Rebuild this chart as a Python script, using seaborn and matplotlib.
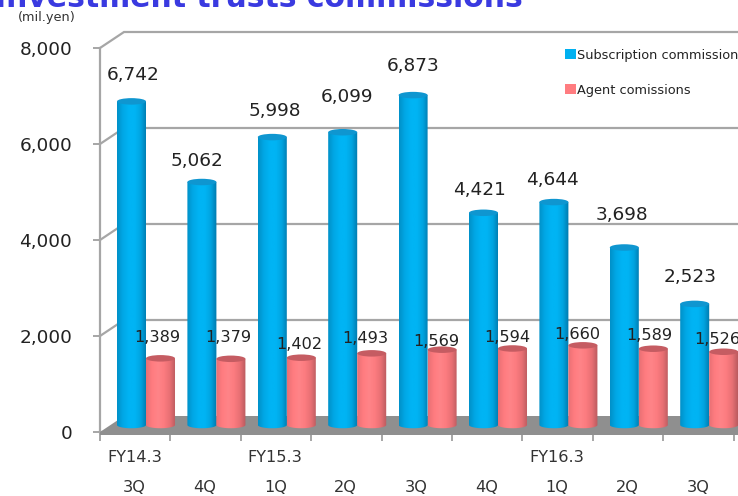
import numpy as np
import pandas as pd
import matplotlib
matplotlib.use("Agg")
import matplotlib.pyplot as plt
from matplotlib.patches import Polygon, Ellipse, Patch
from matplotlib.colors import LinearSegmentedColormap
import seaborn as sns

quarters = ["3Q", "4Q", "1Q", "2Q", "3Q", "4Q", "1Q", "2Q", "3Q"]
fiscal_years = ["FY14.3", "", "FY15.3", "", "", "", "FY16.3", "", ""]
subscription = [6742, 5062, 5998, 6099, 6873, 4421, 4644, 3698, 2523]
agent = [1389, 1379, 1402, 1493, 1569, 1594, 1660, 1589, 1526]
series_names = ["Subscription commission", "Agent comissions"]
title_text = "Investment trusts commissions"
unit_text = "(mil.yen)"
y_ticks = [0, 2000, 4000, 6000, 8000]

# hand-placed label offsets of the original, in pixels (dx, dy above bar top)
blue_offsets = [(2, 26), (-5, 21), (3, 26), (4, 35), (0, 29), (-4, 23), (-1, 22), (-2, 32), (-5, 27)]
red_offsets = [(-3, 21), (-3, 21), (-2, 13), (-6, 15), (-6, 8), (-5, 11), (-6, 11), (-4, 13), (-6, 12)]

W, H = 738, 496
L, R, T, B = 100, 738, 48, 432
X0 = 146            # pixel of category 0 centre
STEP = 70.4
PX_Y = 8000 / (B - T)
BASE = 7 * PX_Y
DX, DY = 24 / STEP, 16 * PX_Y
GREY = "#a6a6a6"

sns.set_theme(style="white")
plt.rcParams["font.family"] = ["DejaVu Sans"]
fig = plt.figure(figsize=(W / 100, H / 100), dpi=100)
ax = fig.add_axes([L / W, 1 - B / H, (R - L) / W, (B - T) / H])

df = pd.DataFrame({
    "pos": list(range(len(quarters))) * 2,
    "value": subscription + agent,
    "series": [series_names[0]] * len(subscription) + [series_names[1]] * len(agent),
})
sns.barplot(data=df, x="pos", y="value", hue="series", order=list(range(len(quarters))),
            palette=["#00b0f0", "#ff7c80"], width=0.824, gap=0, dodge=True,
            native_scale=True, ax=ax, legend=False, saturation=1, linewidth=0, zorder=4)

xmin, xmax = (L - X0) / STEP, (R - X0) / STEP
ax.set_xlim(xmin, xmax)
ax.set_ylim(0, 8000)
ax.set_xlabel("")
ax.set_ylabel("")
ax.set_axisbelow(True)

# back wall and diagonal gridlines
for v in y_ticks[1:]:
    ax.plot([xmin, xmin + DX, xmax], [v, v + DY, v + DY], color=GREY, lw=1.6,
            clip_on=False, zorder=1, solid_joinstyle="miter")
# floor
drop = 3 * PX_Y
ax.add_patch(Polygon([(xmin, -drop), (xmin, 0), (xmin + DX, DY), (xmax, DY), (xmax, -drop)],
                     closed=True, facecolor="#8f8f8f", edgecolor="none", zorder=1.5, clip_on=False))

blue_cmap = LinearSegmentedColormap.from_list(
    "b", ["#0090c8", "#00a8e6", "#00b4f4", "#00b4f4", "#00a4e0", "#0078ac"])
red_cmap = LinearSegmentedColormap.from_list(
    "r", ["#e87074", "#ff7c80", "#ff8488", "#fc7c80", "#e87074", "#b85a5e"])
top_colors = ["#0f96d0", "#c55c62"]
grad = np.linspace(0, 1, 128).reshape(1, -1)
EH = 6.5 * PX_Y

n = len(quarters)
patches = list(ax.patches)
bars = [p for p in patches if not isinstance(p, Polygon) and p.get_width() < 1]
for idx, p in enumerate(bars):
    s = 0 if idx < n else 1
    x, w, h = p.get_x(), p.get_width(), p.get_height()
    top = BASE + h
    p.set_visible(False)
    t = np.linspace(np.pi, 2 * np.pi, 40)
    xs = x + w / 2 + w / 2 * np.cos(t)
    ys = BASE + EH / 2 * np.sin(t)
    clip = Polygon(np.r_[np.c_[xs, ys], [[x + w, top], [x, top]]], closed=True,
                   transform=ax.transData, facecolor="none", edgecolor="none")
    ax.add_patch(clip)
    z = 4 + s * 0.5 + idx * 0.001
    im = ax.imshow(grad, extent=[x, x + w, BASE - EH, top], aspect="auto",
                   cmap=blue_cmap if s == 0 else red_cmap, zorder=z)
    im.set_clip_path(clip)
    ax.add_patch(Ellipse((x + w / 2, top), w, EH, facecolor=top_colors[s],
                         edgecolor="none", zorder=z + 0.0005))
ax.set_xlim(xmin, xmax)
ax.set_ylim(0, 8000)

# value labels
for i in range(n):
    cx_b = bars[i].get_x() + bars[i].get_width() / 2
    cx_r = bars[i + n].get_x() + bars[i + n].get_width() / 2
    ax.text(cx_b + blue_offsets[i][0] / STEP, BASE + subscription[i] + blue_offsets[i][1] * PX_Y,
            f"{subscription[i]:,}", ha="center", va="center", fontsize=13.3,
            color="#222222", zorder=10, clip_on=False)
    ax.text(cx_r + red_offsets[i][0] / STEP, BASE + agent[i] + red_offsets[i][1] * PX_Y,
            f"{agent[i]:,}", ha="center", va="center", fontsize=11.6,
            color="#222222", zorder=10, clip_on=False)

# axes
for side in ["top", "right"]:
    ax.spines[side].set_visible(False)
for side in ["left", "bottom"]:
    ax.spines[side].set_visible(True)
    ax.spines[side].set_color(GREY)
    ax.spines[side].set_linewidth(1.6)
    ax.spines[side].set_zorder(1)
ax.set_yticks(y_ticks)
ax.set_yticklabels([f"{v:,}" for v in y_ticks])
ax.tick_params(axis="y", left=True, length=5, width=1.4, color=GREY, labelsize=13.3,
               labelcolor="#222222", pad=15)
boundaries = [xmin + i for i in range(n + 1)]
ax.set_xticks(boundaries)
ax.set_xticklabels([])
ax.tick_params(axis="x", bottom=True, length=6.5, width=1.4, color=GREY)

tr = ax.get_xaxis_transform()
for i in range(n):
    c = xmin + i + 0.49
    ax.annotate(quarters[i], (c, 0), xycoords=tr, xytext=(0, -56 * 0.72), textcoords="offset points",
                ha="center", va="center", fontsize=11.6, color="#333333", annotation_clip=False)
    if fiscal_years[i]:
        ax.annotate(fiscal_years[i], (c, 0), xycoords=tr, xytext=(0, -25 * 0.72), textcoords="offset points",
                    ha="center", va="center", fontsize=11.6, color="#333333", annotation_clip=False)

# title and unit (title is cropped by the top and left of the image)
fig.text(-5 / W, 1 - 7 / H, title_text, fontsize=21.5, fontweight="bold", color="#3a3ae0",
         ha="left", va="baseline")
fig.text(18 / W, 1 - 17 / H, unit_text, fontsize=9.3, color="#333333", ha="left", va="center")

# legend
handles = [Patch(facecolor="#00b0f0", edgecolor="none"), Patch(facecolor="#ff7c80", edgecolor="none")]
fig.legend(handles, series_names, loc="upper left", bbox_to_anchor=(562 / W, 1 - 46 / H),
           frameon=False, fontsize=9.3, handlelength=0.85, handleheight=0.85, handletextpad=0.1,
           labelspacing=1.72, borderaxespad=0, borderpad=0.2, labelcolor="#222222")

fig.savefig("out.png", dpi=100)
